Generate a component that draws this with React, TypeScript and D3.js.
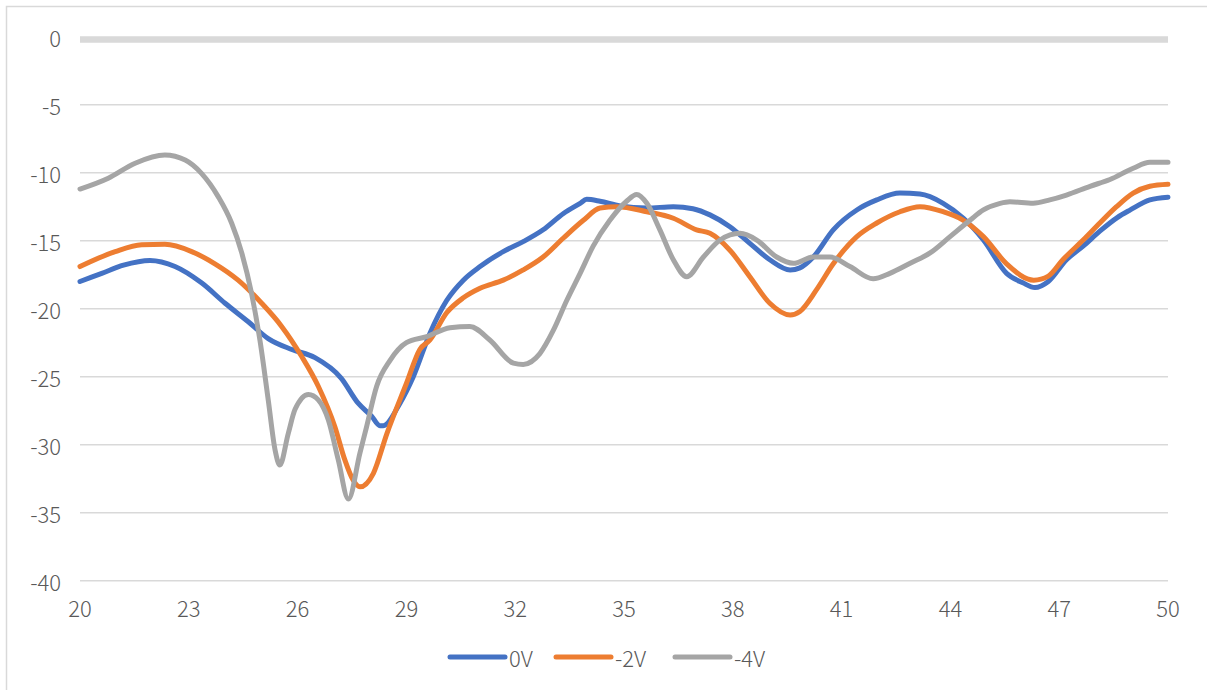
import React from "react";
import * as d3 from "d3";

// Wavelength-style sweep from 20 to 50, three bias voltages.
const xTicks = [20, 23, 26, 29, 32, 35, 38, 41, 44, 47, 50];
const yTicks = [0, -5, -10, -15, -20, -25, -30, -35, -40];

const series0V: [number, number][] = [
  [20, -18.0], [20.6, -17.4], [21.2, -16.8], [21.93, -16.45], [22.62, -16.9], [23.35, -18.1],
  [24.0, -19.6], [24.64, -20.96], [25.19, -22.2], [25.84, -23.0], [26.48, -23.6],
  [27.2, -25.1], [27.67, -26.95], [28.04, -27.9], [28.27, -28.6], [28.36, -28.6],
  [28.82, -26.96], [29.19, -25.0], [29.65, -21.8], [30.11, -19.4], [30.57, -17.9],
  [31.03, -16.9], [31.67, -15.8], [32.22, -15.07], [32.77, -14.2], [33.33, -13.0],
  [33.79, -12.25], [33.97, -11.96], [34.34, -12.1], [34.89, -12.45], [35.63, -12.6],
  [36.36, -12.5], [36.9, -12.65], [37.37, -13.1], [37.92, -13.97], [38.47, -15.2],
  [39.02, -16.4], [39.58, -17.15], [39.85, -17.0], [40.22, -16.2], [40.77, -14.2],
  [41.42, -12.74], [41.97, -12.0], [42.61, -11.5], [43.16, -11.57], [43.8, -12.25],
  [44.36, -13.35], [44.91, -14.95], [45.55, -17.4], [46.0, -18.1], [46.33, -18.45],
  [46.7, -18.0], [47.2, -16.4], [47.66, -15.4], [48.12, -14.3], [48.6, -13.3],
  [48.95, -12.75], [49.5, -12.0], [50, -11.8],
];

const seriesMinus2V: [number, number][] = [
  [20, -16.9], [20.97, -15.8], [21.7, -15.3], [22.34, -15.27], [23.08, -15.8],
  [23.72, -16.7], [24.36, -17.9], [25.01, -19.6], [25.56, -21.3], [26.11, -23.5],
  [26.57, -25.7], [27.03, -28.7], [27.3, -31.1], [27.53, -32.6], [27.72, -33.1],
  [28.09, -32.1], [28.46, -29.2], [29.0, -25.5], [29.37, -23.0], [29.65, -22.3],
  [30.11, -20.3], [30.57, -19.2], [31.03, -18.5], [31.67, -17.9], [32.22, -17.15],
  [32.77, -16.2], [33.33, -14.8], [33.88, -13.5], [34.34, -12.6], [34.8, -12.5],
  [35.63, -12.87], [36.36, -13.35], [37.0, -14.2], [37.37, -14.46], [37.92, -15.7],
  [38.47, -17.65], [39.02, -19.6], [39.58, -20.46], [39.85, -20.2], [40.31, -18.6],
  [40.77, -16.7], [41.42, -14.7], [41.97, -13.7], [42.61, -12.87], [43.16, -12.5],
  [43.8, -12.87], [44.36, -13.5], [44.91, -14.7], [45.55, -16.7], [46.3, -17.9],
  [46.7, -17.6], [47.1, -16.4], [47.66, -14.95], [48.12, -13.7], [48.58, -12.5],
  [49.04, -11.5], [49.5, -11.0], [50, -10.85],
];

const seriesMinus4V: [number, number][] = [
  [20, -11.2], [20.78, -10.4], [21.52, -9.3], [22.34, -8.7], [22.9, -9.07],
  [23.35, -10.05], [23.81, -11.76], [24.18, -13.7], [24.46, -15.9], [24.73, -18.87],
  [24.96, -22.3], [25.19, -26.7], [25.38, -30.4], [25.51, -31.5], [25.74, -29.2],
  [25.93, -27.4], [26.3, -26.3], [26.57, -26.7], [26.85, -28.2], [27.12, -31.1],
  [27.4, -34.0], [27.72, -30.6], [27.9, -28.7], [28.18, -25.7], [28.55, -23.8],
  [29.0, -22.5], [29.56, -22.06], [30.2, -21.4], [30.75, -21.3], [31.3, -22.3],
  [31.95, -24.0], [32.22, -24.1], [32.68, -23.3], [33.05, -21.6], [33.42, -19.4],
  [33.79, -17.4], [34.15, -15.4], [34.61, -13.5], [35.07, -12.1], [35.35, -11.6],
  [35.63, -12.25], [35.99, -14.2], [36.36, -16.4], [36.73, -17.65], [37.19, -16.2],
  [37.65, -14.95], [38.2, -14.46], [38.66, -14.95], [39.21, -16.2], [39.67, -16.66],
  [40.22, -16.2], [40.68, -16.2], [41.23, -16.9], [41.87, -17.8], [42.33, -17.4],
  [42.89, -16.66], [43.44, -15.9], [43.99, -14.7], [44.54, -13.5], [44.91, -12.74],
  [45.37, -12.25], [45.64, -12.13], [46.28, -12.25], [46.74, -12.0], [47.2, -11.64],
  [47.85, -11.0], [48.4, -10.5], [49.04, -9.67], [49.5, -9.24], [50, -9.24],
];

// Flat reference trace sitting on the zero level.
const referenceLevel = -0.2;

const seriesNames = ["0V", "-2V", "-4V"];
const seriesColors = ["#4472C4", "#ED7D31", "#A5A5A5"];
const allSeries = [series0V, seriesMinus2V, seriesMinus4V];

const WIDTH = 1207;
const HEIGHT = 690;
const FONT = "'Noto Sans CJK JP', 'Noto Sans', sans-serif";
const TEXT = "#595959";

export default function App() {
  const x = d3.scaleLinear().domain([20, 50]).range([80, 1168]);
  const y = d3.scaleLinear().domain([-40, 0]).range([580.7, 36.7]);

  const line = d3
    .line<[number, number]>()
    .x((d) => x(d[0]))
    .y((d) => y(d[1]))
    .curve(d3.curveMonotoneX);

  const legendX = [450, 556, 675];

  return (
    <div style={{ position: "absolute", left: 0, top: 0 }}>
      <svg width={WIDTH} height={HEIGHT} style={{ display: "block", background: "#fff" }}>
        <rect x={6.5} y={6.5} width={1220} height={720} fill="#fff" stroke="#D9D9D9" strokeWidth={1.5} />
        {yTicks.map((t) =>
          t === 0 ? null : (
            <line key={t} x1={x(20)} x2={x(50)} y1={y(t)} y2={y(t)} stroke="#D9D9D9" strokeWidth={1.5} />
          )
        )}
        <line
          x1={x(20)}
          x2={x(50)}
          y1={y(referenceLevel)}
          y2={y(referenceLevel)}
          stroke="#D9D9D9"
          strokeWidth={6.5}
        />
        {yTicks.map((t) => (
          <text
            key={t}
            x={61}
            y={y(t)}
            textAnchor="end"
            dominantBaseline="central"
            fontFamily={FONT}
            fontWeight={300}
            fontSize={22}
            fill={TEXT}
          >
            {t}
          </text>
        ))}
        {xTicks.map((t) => (
          <text
            key={t}
            x={x(t)}
            y={607}
            textAnchor="middle"
            dominantBaseline="central"
            fontFamily={FONT}
            fontWeight={300}
            fontSize={22}
            fill={TEXT}
          >
            {t}
          </text>
        ))}
        {allSeries.map((s, i) => (
          <path
            key={seriesNames[i]}
            d={line(s) ?? ""}
            fill="none"
            stroke={seriesColors[i]}
            strokeWidth={5}
            strokeLinejoin="round"
            strokeLinecap="round"
          />
        ))}
        {seriesNames.map((name, i) => (
          <g key={name}>
            <line
              x1={legendX[i]}
              x2={legendX[i] + 55}
              y1={657}
              y2={657}
              stroke={seriesColors[i]}
              strokeWidth={5}
              strokeLinecap="round"
            />
            <text
              x={legendX[i] + 59}
              y={657}
              dominantBaseline="central"
              fontFamily={FONT}
              fontWeight={300}
              fontSize={22}
              fill={TEXT}
            >
              {name}
            </text>
          </g>
        ))}
      </svg>
    </div>
  );
}
